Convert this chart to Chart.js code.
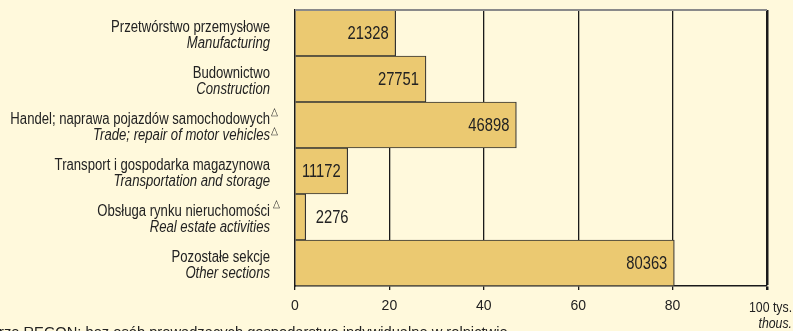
<!DOCTYPE html>
<html>
<head>
<meta charset="utf-8">
<script src="https://cdn.jsdelivr.net/npm/chart.js@4/dist/chart.umd.min.js"></script>
<style>
  html, body { margin: 0; padding: 0; background: #fff9dc; }
  #wrap { width: 793px; height: 331px; position: relative; overflow: hidden; }
</style>
</head>
<body>
<div id="wrap"><canvas id="myChart" width="793" height="331"></canvas></div>
<script>
// data
var labelsPl = [
  "Przetwórstwo przemysłowe",
  "Budownictwo",
  "Handel; naprawa pojazdów samochodowych",
  "Transport i gospodarka magazynowa",
  "Obsługa rynku nieruchomości",
  "Pozostałe sekcje",
];
var labelsEn = [
  "Manufacturing",
  "Construction",
  "Trade; repair of motor vehicles",
  "Transportation and storage",
  "Real estate activities",
  "Other sections",
];
// which label lines carry the triangle mark: [polish, english]
var marks = [
  [false, false],
  [false, false],
  [true, true],
  [false, false],
  [true, false],
  [false, false],
];
var values = [21328, 27751, 46898, 11172, 2276, 80363];
var xTicks = [0, 20, 40, 60, 80, 100];

var FONT = '"Liberation Sans", Arial, sans-serif';
var TXT = "#222";
var NARROW = 0.82; // squeeze to look like Arial Narrow

// draw text squeezed horizontally
function narrowText(c, text, x, y, align) {
  c.save();
  c.translate(x, y);
  c.scale(NARROW, 1);
  c.textAlign = align;
  c.fillText(text, 0, 0);
  c.restore();
}

// category labels drawn next to the y axis
var labelPlugin = {
  id: "labels",
  afterDraw: function (chart) {
    var c = chart.ctx;
    var y = chart.scales.y;
    var right = 270;
    c.save();
    c.fillStyle = TXT;
    c.textBaseline = "alphabetic";
    for (var i = 0; i < labelsPl.length; i++) {
      var py = y.getPixelForValue(i);
      c.font = "16px " + FONT;
      narrowText(c, labelsPl[i], right, py - 1, "right");
      c.font = "italic 16px " + FONT;
      narrowText(c, labelsEn[i], right, py + 15, "right");
      c.font = "11px " + FONT;
      if (marks[i][0]) narrowText(c, "\u25B3", i == 4 ? 273 : 271, py - 10, "left");
      if (marks[i][1]) narrowText(c, "\u25B3", 271, py + 9, "left");
    }
    c.restore();
  },
};

// value labels, top border, axis unit, footnote
var extraPlugin = {
  id: "extra",
  afterDatasetsDraw: function (chart) {
    var c = chart.ctx;
    var a = chart.chartArea;
    c.save();
    c.strokeStyle = "#8a8a8a";
    c.lineWidth = 2;
    c.beginPath();
    c.moveTo(a.left, a.top);
    c.lineTo(a.right, a.top);
    c.stroke();

    c.font = "18px " + FONT;
    c.fillStyle = TXT;
    c.textBaseline = "middle";
    chart.getDatasetMeta(0).data.forEach(function (bar, i) {
      if (values[i] < 5000) {
        narrowText(c, String(values[i]), bar.x + 10, bar.y + 1, "left");
      } else {
        narrowText(c, String(values[i]), bar.x - 7, bar.y + 1, "right");
      }
    });

    var x = chart.scales.x;
    c.textBaseline = "alphabetic";
    c.font = "15px " + FONT;
    narrowText(c, "100 tys.", x.getPixelForValue(100000) - 18, 312, "left");
    c.font = "italic 15px " + FONT;
    narrowText(c, "thous.", 792, 328, "right");

    c.textAlign = "left";
    c.font = "14.7px " + FONT;
    c.fillText("rze REGON; bez osób prowadzących gospodarstwo indywidualne w rolnictwie", -1, 337);
    c.restore();
  },
};

new Chart(document.getElementById("myChart"), {
  type: "bar",
  data: {
    labels: labelsPl,
    datasets: [
      {
        data: values,
        backgroundColor: "#ebc971",
        borderColor: "#333",
        borderWidth: 1.2,
        barPercentage: 1,
        categoryPercentage: 1,
      },
    ],
  },
  options: {
    indexAxis: "y",
    responsive: false,
    animation: false,
    layout: { padding: { top: 10, right: 26, left: 0, bottom: 0 } },
    plugins: { legend: { display: false }, tooltip: { enabled: false } },
    scales: {
      x: {
        min: 0,
        max: 100000,
        afterBuildTicks: function (s) {
          s.ticks = xTicks.map(function (v) { return { value: v * 1000 }; });
        },
        afterFit: function (s) { s.height = 45; },
        ticks: {
          color: TXT,
          font: { family: FONT, size: 14 },
          padding: 8,
          maxRotation: 0,
          callback: function (v) { return v == 100000 ? "" : String(v / 1000); },
        },
        grid: {
          color: "#1a1a1a",
          tickColor: "#1a1a1a",
          tickLength: 4,
          lineWidth: function (ctx) {
            return ctx.tick && ctx.tick.value == 100000 ? 2.5 : 1.3;
          },
        },
        border: { color: "#1a1a1a", width: 1.5 },
      },
      y: {
        afterFit: function (s) { s.width = 295; },
        ticks: { display: false },
        grid: { display: false },
        border: { color: "#1a1a1a", width: 1.5 },
      },
    },
  },
  plugins: [labelPlugin, extraPlugin],
});
</script>
</body>
</html>
